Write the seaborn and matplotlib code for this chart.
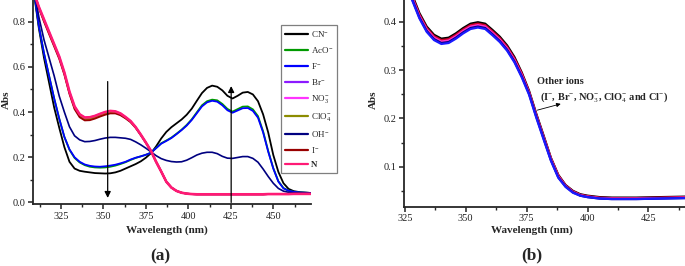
import matplotlib
matplotlib.use("Agg")
import matplotlib.pyplot as plt
import seaborn as sns
from matplotlib.ticker import MultipleLocator, FormatStrFormatter

sns.set_theme(style="ticks")
plt.rcParams["font.family"] = ["Liberation Serif", "DejaVu Serif"]
plt.rcParams.update({
    "mathtext.fontset": "custom",
    "mathtext.rm": "Liberation Serif",
    "mathtext.it": "Liberation Serif:italic",
    "mathtext.bf": "Liberation Serif:bold",
    "axes.linewidth": 1.3,
    "xtick.direction": "out",
    "ytick.direction": "out",
})

# ---------------- panel (a): absorbance vs wavelength for each anion ----------------
wl_a = [309, 312, 315, 318, 321, 324, 327, 330, 333, 336, 339, 342, 345, 348, 351,
        354, 357, 360, 363, 366, 369, 372, 375, 378, 381, 384, 387, 390, 393, 396,
        399, 402, 405, 408, 411, 414, 417, 420, 423, 426, 429, 432, 435, 438, 441,
        444, 447, 450, 453, 456, 459, 462, 466, 472]

abs_cn = [0.93, 0.77, 0.64, 0.53, 0.42, 0.33, 0.245, 0.18, 0.150, 0.140,
          0.136, 0.133, 0.130, 0.129, 0.128, 0.129, 0.133, 0.140, 0.150, 0.160,
          0.170, 0.182, 0.198, 0.218, 0.248, 0.283, 0.312, 0.333, 0.350, 0.367,
          0.388, 0.415, 0.450, 0.484, 0.507, 0.517, 0.512, 0.496, 0.472, 0.460,
          0.472, 0.486, 0.489, 0.478, 0.448, 0.39, 0.31, 0.21, 0.135, 0.085,
          0.06, 0.05, 0.045, 0.042]
abs_aco = [0.94, 0.78, 0.66, 0.56, 0.46, 0.37, 0.29, 0.233, 0.197, 0.177,
           0.165, 0.158, 0.155, 0.154, 0.155, 0.158, 0.163, 0.170, 0.178, 0.188,
           0.197, 0.204, 0.211, 0.220, 0.241, 0.262, 0.274, 0.287, 0.304, 0.322,
           0.343, 0.368, 0.399, 0.430, 0.448, 0.455, 0.452, 0.436, 0.414, 0.402,
           0.413, 0.424, 0.425, 0.412, 0.382, 0.315, 0.228, 0.152, 0.094, 0.064,
           0.052, 0.047, 0.044, 0.042]
abs_f = [0.94, 0.78, 0.66, 0.56, 0.46, 0.37, 0.29, 0.235, 0.20, 0.18,
         0.168, 0.162, 0.159, 0.158, 0.160, 0.163, 0.167, 0.173, 0.180, 0.190,
         0.198, 0.204, 0.211, 0.220, 0.240, 0.260, 0.272, 0.285, 0.302, 0.320,
         0.34, 0.365, 0.395, 0.425, 0.443, 0.450, 0.446, 0.430, 0.408, 0.397,
         0.407, 0.417, 0.418, 0.405, 0.375, 0.31, 0.225, 0.15, 0.092, 0.062,
         0.052, 0.047, 0.044, 0.042]
abs_n = [0.93, 0.865, 0.81, 0.755, 0.70, 0.645, 0.575, 0.49, 0.425, 0.39,
         0.376, 0.377, 0.383, 0.392, 0.400, 0.405, 0.403, 0.394, 0.378, 0.360,
         0.333, 0.300, 0.265, 0.228, 0.180, 0.137, 0.092, 0.066, 0.051, 0.043,
         0.039, 0.037, 0.036, 0.036, 0.036, 0.036, 0.036, 0.036, 0.036, 0.036,
         0.036, 0.036, 0.036, 0.036, 0.036, 0.036, 0.037, 0.037, 0.037, 0.037,
         0.037, 0.038, 0.038, 0.038]
abs_br = [0.93, 0.864, 0.808, 0.753, 0.698, 0.643, 0.573, 0.488, 0.423, 0.388,
          0.374, 0.375, 0.381, 0.390, 0.398, 0.403, 0.401, 0.392, 0.376, 0.358,
          0.332, 0.299, 0.265, 0.228, 0.180, 0.137, 0.092, 0.066, 0.051, 0.043,
          0.039, 0.037, 0.036, 0.036, 0.036, 0.036, 0.036, 0.036, 0.036, 0.036,
          0.036, 0.036, 0.036, 0.036, 0.036, 0.036, 0.037, 0.037, 0.037, 0.037,
          0.037, 0.038, 0.038, 0.038]
abs_no3 = [0.93, 0.865, 0.81, 0.755, 0.70, 0.645, 0.575, 0.49, 0.425, 0.39,
           0.376, 0.377, 0.383, 0.392, 0.400, 0.405, 0.403, 0.394, 0.378, 0.360,
           0.333, 0.300, 0.265, 0.228, 0.180, 0.137, 0.092, 0.066, 0.051, 0.043,
           0.039, 0.037, 0.036, 0.036, 0.036, 0.036, 0.036, 0.036, 0.036, 0.036,
           0.036, 0.036, 0.036, 0.036, 0.036, 0.036, 0.037, 0.037, 0.037, 0.037,
           0.037, 0.038, 0.038, 0.038]
abs_clo4 = [0.93, 0.862, 0.805, 0.75, 0.695, 0.64, 0.57, 0.485, 0.418, 0.382,
            0.368, 0.369, 0.376, 0.385, 0.393, 0.398, 0.397, 0.389, 0.374, 0.357,
            0.331, 0.299, 0.264, 0.227, 0.180, 0.137, 0.092, 0.066, 0.051, 0.043,
            0.039, 0.037, 0.036, 0.036, 0.036, 0.036, 0.036, 0.036, 0.036, 0.036,
            0.036, 0.036, 0.036, 0.036, 0.036, 0.036, 0.037, 0.037, 0.037, 0.037,
            0.037, 0.038, 0.038, 0.038]
abs_oh = [0.95, 0.82, 0.72, 0.64, 0.56, 0.47, 0.40, 0.335, 0.295, 0.277,
          0.269, 0.270, 0.274, 0.280, 0.285, 0.288, 0.288, 0.286, 0.284, 0.279,
          0.268, 0.255, 0.240, 0.224, 0.207, 0.194, 0.186, 0.181, 0.179, 0.180,
          0.187, 0.198, 0.210, 0.218, 0.222, 0.222, 0.216, 0.204, 0.196, 0.195,
          0.199, 0.203, 0.203, 0.195, 0.178, 0.148, 0.115, 0.085, 0.062, 0.050,
          0.045, 0.043, 0.042, 0.041]
abs_i = [0.93, 0.86, 0.80, 0.745, 0.69, 0.635, 0.565, 0.48, 0.413, 0.377,
         0.363, 0.364, 0.371, 0.380, 0.388, 0.394, 0.394, 0.386, 0.372, 0.355,
         0.330, 0.298, 0.264, 0.227, 0.180, 0.137, 0.092, 0.066, 0.051, 0.043,
         0.039, 0.037, 0.036, 0.036, 0.036, 0.036, 0.036, 0.036, 0.036, 0.036,
         0.036, 0.036, 0.036, 0.036, 0.036, 0.036, 0.037, 0.037, 0.037, 0.037,
         0.037, 0.038, 0.038, 0.038]

series_a = [abs_cn, abs_aco, abs_f, abs_br, abs_no3, abs_clo4, abs_oh, abs_i, abs_n]
labels_a = [r"CN$^{-}$", r"AcO$^{-}$", r"F$^{-}$", r"Br$^{-}$", r"NO$_{3}^{-}$",
            r"ClO$_{4}^{-}$", r"OH$^{-}$", r"I$^{-}$", "N"]
colors_a = ["#000000", "#009a00", "#0000ff", "#8c1aff", "#ff33ff",
            "#8c8c00", "#000080", "#990000", "#ff1a75"]
widths_a = [1.3, 1.3, 1.3, 1.3, 1.3, 1.3, 1.2, 1.3, 1.9]

# ---------------- panel (b): other ions, all overlapping ----------------
wl_b = [325, 328, 331, 334, 337, 340, 343, 346, 349, 352, 355, 358, 361, 364, 367,
        370, 373, 376, 379, 382, 385, 388, 391, 394, 397, 400, 405, 410, 420, 430, 440]
abs_b_i = [0.496, 0.456, 0.418, 0.390, 0.373, 0.365, 0.367, 0.376, 0.387, 0.396,
           0.399, 0.396, 0.383, 0.369, 0.351, 0.327, 0.295, 0.257, 0.209, 0.164,
           0.118, 0.083, 0.062, 0.050, 0.043, 0.040, 0.037, 0.036, 0.036, 0.037, 0.038]
abs_b_br = [0.493, 0.453, 0.415, 0.387, 0.370, 0.362, 0.364, 0.373, 0.384, 0.393,
            0.396, 0.393, 0.380, 0.366, 0.348, 0.324, 0.293, 0.255, 0.207, 0.162,
            0.117, 0.082, 0.061, 0.049, 0.042, 0.039, 0.036, 0.035, 0.035, 0.036, 0.037]
abs_b_no3 = [0.490, 0.450, 0.412, 0.384, 0.367, 0.359, 0.361, 0.370, 0.381, 0.390,
             0.393, 0.390, 0.377, 0.363, 0.345, 0.321, 0.290, 0.253, 0.205, 0.160,
             0.115, 0.080, 0.060, 0.048, 0.041, 0.038, 0.035, 0.034, 0.034, 0.035, 0.036]
abs_b_clo4 = [0.487, 0.447, 0.409, 0.381, 0.364, 0.356, 0.358, 0.367, 0.378, 0.387,
              0.390, 0.387, 0.374, 0.360, 0.342, 0.318, 0.287, 0.251, 0.203, 0.158,
              0.113, 0.078, 0.059, 0.047, 0.040, 0.037, 0.034, 0.033, 0.033, 0.034, 0.035]
abs_b_cl = [0.485, 0.445, 0.407, 0.379, 0.362, 0.354, 0.356, 0.365, 0.376, 0.385,
            0.388, 0.385, 0.372, 0.358, 0.340, 0.316, 0.285, 0.249, 0.201, 0.156,
            0.112, 0.077, 0.058, 0.046, 0.040, 0.037, 0.034, 0.033, 0.033, 0.034, 0.035]
series_b = [abs_b_i, abs_b_br, abs_b_no3, abs_b_clo4, abs_b_cl]
colors_b = ["#000000", "#d0002a", "#ff33cc", "#000080", "#1a1aff"]

# arrows in panel (a): (wavelength, start abs, end abs)
arrow_down = (352.5, 0.535, 0.02)
arrow_up = (425.2, 0.0, 0.515)

fig = plt.figure(figsize=(6.85, 2.66), dpi=100)
ax_a = fig.add_axes([0.0486, 0.233, 0.4054, 0.767])
ax_b = fig.add_axes([0.5902, 0.223, 0.4098, 0.777])

for vals, lab, col, lw in zip(series_a, labels_a, colors_a, widths_a):
    sns.lineplot(x=wl_a, y=vals, color=col, lw=lw, label=lab, ax=ax_a)
for vals, col in zip(series_b, colors_b):
    sns.lineplot(x=wl_b, y=vals, color=col, lw=1.6, ax=ax_b)

ax_a.set_xlim(308.7, 472.2)
ax_a.set_ylim(-0.007, 0.896)
ax_b.set_xlim(324.8, 440)
ax_b.set_ylim(0.0172, 0.445)

for ax in (ax_a, ax_b):
    ax.spines["top"].set_visible(False)
    ax.spines["right"].set_visible(False)
    ax.xaxis.set_major_locator(MultipleLocator(25))
    ax.xaxis.set_minor_locator(MultipleLocator(12.5))
    ax.tick_params(which="major", length=3.5, width=1.1, labelsize=7.5, pad=2,
                   colors="#222222")
    ax.tick_params(which="minor", length=2, width=1.0)
    ax.set_xlabel("Wavelength (nm)", fontsize=8, fontweight="bold", labelpad=1)
    ax.set_ylabel("Abs", fontsize=8, fontweight="bold")

ax_a.yaxis.set_major_locator(MultipleLocator(0.2))
ax_a.yaxis.set_minor_locator(MultipleLocator(0.1))
ax_a.yaxis.set_major_formatter(FormatStrFormatter("%.1f"))
ax_b.yaxis.set_major_locator(MultipleLocator(0.1))
ax_b.yaxis.set_minor_locator(MultipleLocator(0.05))
ax_b.yaxis.set_major_formatter(FormatStrFormatter("%.1f"))

ax_a.xaxis.set_label_coords(0.481, -0.103)
ax_a.yaxis.set_label_coords(-0.080, 0.51)
ax_b.xaxis.set_label_coords(0.454, -0.089)
ax_b.yaxis.set_label_coords(-0.094, 0.516)

# arrows (a)
ax_a.annotate("", xy=(arrow_down[0], arrow_down[2]), xytext=(arrow_down[0], arrow_down[1]),
              arrowprops=dict(arrowstyle="-|>", color="black", lw=0.9,
                              mutation_scale=9, shrinkA=0, shrinkB=0))
ax_a.annotate("", xy=(arrow_up[0], arrow_up[2]), xytext=(arrow_up[0], arrow_up[1]),
              arrowprops=dict(arrowstyle="-|>", color="black", lw=0.9,
                              mutation_scale=9, shrinkA=0, shrinkB=0))

leg = ax_a.legend(loc="upper left", bbox_to_anchor=(0.41, 0.906),
                  bbox_transform=fig.transFigure, borderaxespad=0,
                  fontsize=6.5, frameon=True, fancybox=False, framealpha=1,
                  edgecolor="#7f7f7f", handlelength=2.6, handletextpad=0.3,
                  labelspacing=0.66, borderpad=0.45)
leg.get_frame().set_linewidth(0.9)
for line in leg.get_lines():
    line.set_linewidth(1.6)
leg.get_texts()[-1].set_fontweight("bold")

# annotation (b)
ax_b.annotate("", xy=(389, 0.230), xytext=(379.4, 0.217),
              arrowprops=dict(arrowstyle="-|>", color="black", lw=0.6,
                              mutation_scale=6, shrinkA=0, shrinkB=0))
ax_b.text(379.4, 0.277, "Other ions", fontsize=7.5, fontweight="bold", va="center")
ax_b.text(380.4, 0.245,
          r"(I$^{-}$, Br$^{-}$, NO$_{3}^{-}$, ClO$_{4}^{-}$ and Cl$^{-}$)",
          fontsize=7.5, fontweight="bold", va="center")

fig.text(0.2336, 0.038, "(a)", fontsize=12.5, fontweight="bold", ha="center", va="center")
fig.text(0.7762, 0.041, "(b)", fontsize=12.5, fontweight="bold", ha="center", va="center")

fig.savefig("out.png", dpi=100)
plt.close(fig)
